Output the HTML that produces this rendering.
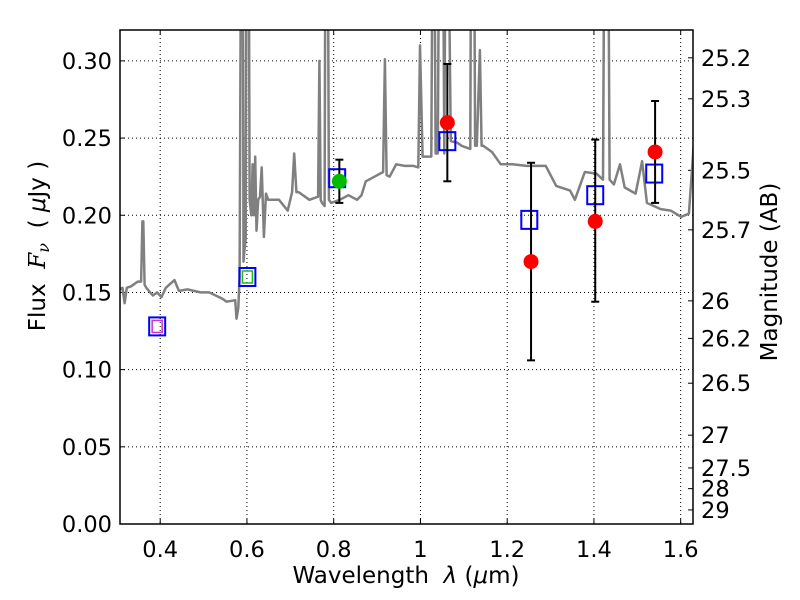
<!DOCTYPE html>
<html><head><meta charset="utf-8"><style>
body{margin:0;background:#fff}
svg{display:block;font-family:"DejaVu Sans","Liberation Sans",sans-serif}
</style></head><body>
<svg id="c" width="800" height="600" xmlns="http://www.w3.org/2000/svg"></svg>
<script>
const specLam=[0.307,0.313,0.318,0.323,0.333,0.348,0.356,0.359,0.361,0.364,0.368,0.383,0.393,0.403,0.413,0.433,0.443,0.463,0.493,0.513,0.543,0.553,0.573,0.576,0.580,0.583,0.588,0.590,0.592,0.594,0.597,0.600,0.603,0.606,0.610,0.613,0.616,0.619,0.622,0.626,0.630,0.634,0.639,0.644,0.649,0.654,0.674,0.694,0.704,0.709,0.714,0.719,0.744,0.764,0.767,0.770,0.773,0.779,0.782,0.785,0.789,0.794,0.814,0.834,0.854,0.864,0.874,0.894,0.914,0.918,0.922,0.929,0.944,0.964,0.984,0.995,0.999,1.005,1.025,1.030,1.035,1.040,1.045,1.050,1.055,1.060,1.070,1.085,1.095,1.115,1.118,1.122,1.126,1.130,1.137,1.141,1.145,1.165,1.185,1.212,1.245,1.289,1.313,1.345,1.356,1.379,1.406,1.421,1.426,1.431,1.436,1.446,1.460,1.471,1.496,1.511,1.522,1.554,1.577,1.601,1.619,1.631,1.640];
const specF=[0.152,0.153,0.143,0.153,0.154,0.157,0.157,0.196,0.196,0.155,0.153,0.148,0.150,0.147,0.153,0.158,0.151,0.152,0.150,0.150,0.146,0.144,0.145,0.133,0.14,0.16,0.5,0.5,0.17,0.177,0.185,0.5,0.5,0.21,0.20,0.233,0.20,0.238,0.19,0.21,0.212,0.231,0.186,0.214,0.21,0.21,0.21,0.203,0.215,0.24,0.215,0.215,0.21,0.212,0.30,0.21,0.208,0.206,0.5,0.5,0.21,0.208,0.21,0.213,0.21,0.213,0.222,0.225,0.228,0.301,0.226,0.225,0.233,0.232,0.232,0.231,0.31,0.238,0.238,0.5,0.24,0.24,0.5,0.5,0.24,0.5,0.248,0.247,0.245,0.243,0.5,0.5,0.245,0.245,0.307,0.245,0.245,0.241,0.233,0.233,0.232,0.232,0.219,0.216,0.210,0.228,0.227,0.223,0.5,0.5,0.223,0.220,0.233,0.218,0.214,0.235,0.208,0.204,0.203,0.199,0.201,0.249,0.25];
const boxLam=[0.393,0.601,0.808,1.062,1.251,1.403,1.539];
const boxF=[0.128,0.160,0.224,0.248,0.197,0.213,0.227];
const redLam=[1.062,1.255,1.403,1.541];
const redF=[0.260,0.170,0.196,0.241];
const redLo=[0.222,0.106,0.144,0.208];
const redHi=[0.298,0.234,0.249,0.274];
const greenLam=[0.813]; const greenF=[0.222]; const greenLo=[0.208]; const greenHi=[0.236];
const xTicks=[0.4,0.6,0.8,1.0,1.2,1.4,1.6];
const xTickLabels=["0.4","0.6","0.8","1","1.2","1.4","1.6"];
const yTicks=[0,0.05,0.10,0.15,0.20,0.25,0.30];
const yTickLabels=["0.00","0.05","0.10","0.15","0.20","0.25","0.30"];
const magTicks=[25.2,25.3,25.5,25.7,26,26.2,26.5,27,27.5,28,29];

const L=120,R=693,T=30,B=524,x0=0.3073,x1=1.6284,y0=0,y1=0.32;
const X=v=>L+(v-x0)/(x1-x0)*(R-L);
const Y=v=>B-(v-y0)/(y1-y0)*(B-T);
const svg=document.getElementById('c');const NS='http://www.w3.org/2000/svg';
function mk(t,a,p){const e=document.createElementNS(NS,t);for(const k in a)e.setAttribute(k,a[k]);(p||svg).appendChild(e);return e;}
const defs=mk('defs',{});const cp=mk('clipPath',{id:'cl'},defs);mk('rect',{x:L,y:T,width:R-L,height:B-T},cp);
xTicks.forEach((v,i)=>{
 let g=mk('line',{x1:X(v),x2:X(v),y1:T,y2:B,stroke:'#000','stroke-dasharray':'1,3','stroke-width':1});
 
 mk('line',{x1:X(v),x2:X(v),y1:B,y2:B-5,stroke:'#000'});mk('line',{x1:X(v),x2:X(v),y1:T,y2:T+5,stroke:'#000'});
 let t=mk('text',{x:X(v),y:B+33,'font-size':22.5,'text-anchor':'middle'});t.textContent=xTickLabels[i];
 
});
yTicks.forEach((v,i)=>{
 let g=mk('line',{x1:L,x2:R,y1:Y(v),y2:Y(v),stroke:'#000','stroke-dasharray':'1,3','stroke-width':1});
 
 mk('line',{x1:L,x2:L+5,y1:Y(v),y2:Y(v),stroke:'#000'});
 let t=mk('text',{x:L-8,y:Y(v)+8,'font-size':22.5,'text-anchor':'end'});t.textContent=yTickLabels[i];
 
});
magTicks.forEach(m=>{
 const f=Math.pow(10,(23.9-m)/2.5);const y=Y(f);
 mk('line',{x1:R,x2:R-5,y1:y,y2:y,stroke:'#000'});
 let t=mk('text',{x:R+8,y:y+8,'font-size':22.5});t.textContent=String(m);
 
});
const g=mk('g',{'clip-path':'url(#cl)'});
let d=specLam.map((l,i)=>(i?'L':'M')+X(l).toFixed(1)+','+Y(specF[i]).toFixed(1)).join('');
let sp=mk('path',{d:d,fill:'none',stroke:'#808080','stroke-width':2.5,'stroke-linejoin':'round'},g);

boxLam.forEach((l,i)=>{
 let r=mk('rect',{x:X(l)-8,y:Y(boxF[i])-9,width:16,height:18,fill:'none',stroke:'#0000ff','stroke-width':2},g);
 
});
mk('rect',{x:X(boxLam[0])-5,y:Y(boxF[0])-6,width:10,height:12,fill:'none',stroke:'#cc33cc','stroke-width':1.5},g);
mk('rect',{x:X(boxLam[1])-5,y:Y(boxF[1])-6,width:10,height:12,fill:'none',stroke:'#22bb22','stroke-width':1.5},g);
function pts(lam,f,lo,hi,col,name){
 lam.forEach((l,i)=>{
  const x=X(l);
  mk('line',{x1:x,x2:x,y1:Y(lo[i]),y2:Y(hi[i]),stroke:'#000','stroke-width':2},g);
  mk('line',{x1:x-4,x2:x+4,y1:Y(lo[i]),y2:Y(lo[i]),stroke:'#000','stroke-width':2},g);
  mk('line',{x1:x-4,x2:x+4,y1:Y(hi[i]),y2:Y(hi[i]),stroke:'#000','stroke-width':2},g);
  let c=mk('circle',{cx:x,cy:Y(f[i]),r:7.5,fill:col},g);
  
 });
}
pts(greenLam,greenF,greenLo,greenHi,'#00bb00','observed-point-green');
pts(redLam,redF,redLo,redHi,'#ff0000','observed-point-red');
let fr=mk('rect',{x:L,y:T,width:R-L,height:B-T,fill:'none',stroke:'#000','stroke-width':1.5});

</script>
<svg width="800" height="600" style="position:absolute;left:0;top:0" xmlns="http://www.w3.org/2000/svg">
<text x="406" y="583" font-size="23" text-anchor="middle" font-family="DejaVu Sans, sans-serif" xml:space="preserve">Wavelength  <tspan font-style="italic">λ</tspan> (<tspan font-style="italic">μ</tspan>m)</text>
<text transform="translate(45,246) rotate(-90)" font-size="23" text-anchor="middle" font-family="DejaVu Sans, sans-serif" xml:space="preserve">Flux  <tspan font-family="DejaVu Serif, serif" font-style="italic">F<tspan font-size="16" dy="4">ν</tspan></tspan><tspan dy="-4">  ( </tspan><tspan font-style="italic">μ</tspan>Jy )</text>
<text transform="translate(777,272) rotate(-90)" font-size="23" text-anchor="middle" font-family="DejaVu Sans, sans-serif">Magnitude (AB)</text>
</svg>
</body></html>
